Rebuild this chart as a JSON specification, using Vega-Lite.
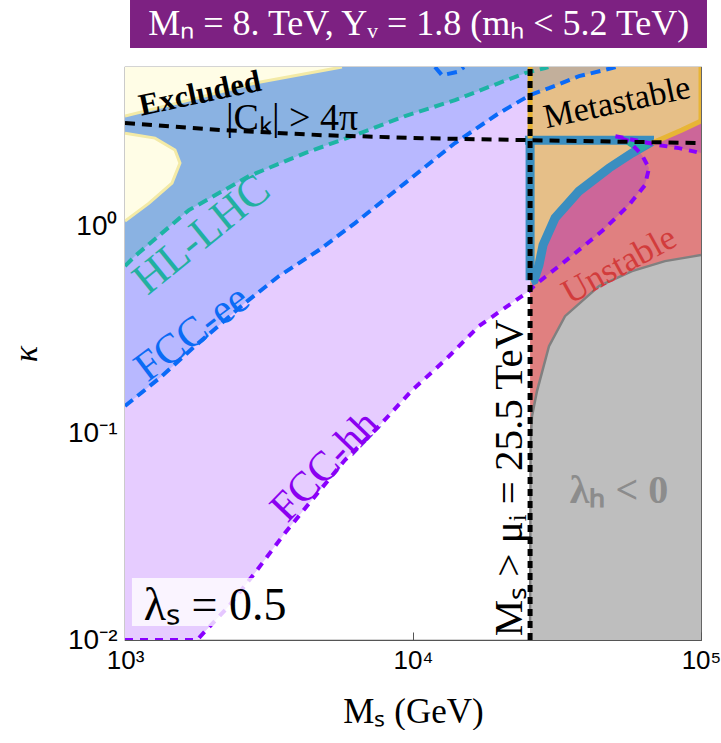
{
  "$schema": "https://vega.github.io/schema/vega-lite/v6.json",
  "background": "white",
  "padding": {"left": 8, "top": 0, "right": 0, "bottom": 0},
  "config": {"view": {"stroke": null}, "text": {"font": "Liberation Serif"}},
  "columns": 1,
  "spacing": 16,
  "align": "each",
  "concat": [
    {
      "width": 576,
      "height": 48,
      "data": {"values": [{"t": "Mₙ = 8. TeV, Yᵥ = 1.8  (mₕ < 5.2 TeV)"}]},
      "layer": [
        {
          "mark": {"type": "rect", "color": "#7D2182"},
          "encoding": {
            "x": {"datum": 0.0087, "type": "quantitative", "scale": {"domain": [0, 1]}, "axis": null},
            "x2": {"datum": 1.0104},
            "y": {"datum": 0, "type": "quantitative", "scale": {"domain": [0, 1]}, "axis": null},
            "y2": {"datum": 1}
          }
        },
        {
          "mark": {"type": "text", "color": "white", "font": "Liberation Serif", "fontSize": 36},
          "encoding": {
            "x": {"datum": 0.51, "type": "quantitative"},
            "y": {"datum": 0.5, "type": "quantitative"},
            "text": {"field": "t"}
          }
        }
      ]
    },
    {
      "width": 576,
      "height": 573,
      "view": {"stroke": "#555", "strokeWidth": 1.2},
      "encoding": {
        "x": {
          "field": "x", "type": "quantitative",
          "scale": {"type": "log", "domain": [1000, 100000], "nice": false},
          "axis": {
            "values": [1000, 10000, 100000],
            "labelExpr": "datum.value < 5000 ? '10³' : datum.value < 50000 ? '10⁴' : '10⁵'",
            "title": "Mₛ (GeV)", "grid": false, "domain": false,
            "tickSize": -8, "tickColor": "#555", "labelPadding": 15,
            "labelFont": "Liberation Sans", "labelFontSize": 26, "labelColor": "black", "labelFlush": false,
            "titleFont": "Liberation Serif", "titleFontSize": 35, "titleFontWeight": "normal", "titleColor": "black", "titlePadding": 21
          }
        },
        "y": {
          "field": "y", "type": "quantitative",
          "scale": {"type": "log", "domain": [0.01, 5.87], "nice": false},
          "axis": {
            "values": [0.01, 0.1, 1],
            "labelExpr": "datum.value < 0.05 ? '10⁻²' : datum.value < 0.5 ? '10⁻¹' : '10⁰'",
            "title": "κ", "grid": false, "domain": false,
            "tickSize": -8, "tickColor": "#555", "labelPadding": 16,
            "labelFont": "Liberation Sans", "labelFontSize": 28, "labelColor": "black", "labelFlush": false,
            "titleFont": "Liberation Serif", "titleFontSize": 34, "titleFontStyle": "italic", "titleFontWeight": "normal", "titleColor": "black", "titlePadding": 24
          }
        }
      },
      "layer": [
        {
          "data": {"values": [{"x":1000,"y":0.01},{"x":1778,"y":0.01},{"x":2296,"y":0.0146},{"x":2826,"y":0.0211},{"x":3594,"y":0.0329},{"x":4459,"y":0.0475},{"x":5805,"y":0.0741},{"x":7621,"y":0.108},{"x":9930,"y":0.161},{"x":12920,"y":0.225},{"x":16950,"y":0.329},{"x":25500,"y":0.49}]},
          "mark": {"type": "area", "color": "#E6CCFF", "clip": true},
          "encoding": {"y2": {"datum": 5.87}}
        },
        {
          "data": {"values": [{"x":1000,"y":0.135},{"x":1345,"y":0.1886},{"x":1750,"y":0.263},{"x":2610,"y":0.425},{"x":3425,"y":0.5735},{"x":4717,"y":0.766},{"x":6290,"y":1.034},{"x":9380,"y":1.613},{"x":13990,"y":2.52},{"x":19890,"y":3.515},{"x":25500,"y":4.295}]},
          "mark": {"type": "area", "color": "#B8B8FF", "clip": true},
          "encoding": {"y2": {"datum": 5.87}}
        },
        {
          "data": {"values": [{"x":1000,"y":0.641},{"x":1083,"y":0.716},{"x":1668,"y":1.195},{"x":2695,"y":1.744},{"x":4217,"y":2.253},{"x":6290,"y":2.752},{"x":9380,"y":3.4},{"x":13990,"y":4.06},{"x":19890,"y":4.91},{"x":25500,"y":5.58}]},
          "mark": {"type": "area", "color": "#8AB2E2", "clip": true},
          "encoding": {"y2": {"datum": 5.87}}
        },
        {
          "data": {"values": [{"x":25500,"y":0.01},{"x":100000,"y":0.01}]},
          "mark": {"type": "area", "color": "#E08080", "clip": true},
          "encoding": {"y2": {"datum": 5.87}}
        },
        {
          "data": {"values": [{"x":25500,"y":0.53},{"x":26310,"y":0.548},{"x":27380,"y":0.648},{"x":28280,"y":0.81},{"x":31130,"y":1.093},{"x":37710,"y":1.476},{"x":47930,"y":1.906},{"x":57610,"y":2.253},{"x":67600,"y":2.518},{"x":85900,"y":2.91},{"x":100000,"y":3.22}]},
          "mark": {"type": "area", "color": "#E6BF88", "clip": true},
          "encoding": {"y2": {"datum": 5.87}}
        },
        {
          "data": {"values": [{"x":25500,"y":4.295},{"x":29660,"y":4.64},{"x":37710,"y":5.3},{"x":49090,"y":5.8},{"x":50500,"y":5.87}]},
          "mark": {"type": "area", "color": "#C2AF9B", "clip": true},
          "encoding": {"y2": {"datum": 5.87}}
        },
        {
          "data": {"values": [{"y":0.519,"x":26000,"x2":26530},{"y":0.593,"x":26800,"x2":29910},{"y":0.7,"x":27250,"x2":34800},{"y":0.81,"x":28280,"x2":39560},{"y":0.946,"x":29710,"x2":45330},{"y":1.093,"x":31130,"x2":50480},{"y":1.263,"x":34150,"x2":56230},{"y":1.476,"x":37710,"x2":61410},{"y":1.578,"x":40140,"x2":63900},{"y":1.906,"x":47930,"x2":65990},{"y":2.203,"x":56230,"x2":62390},{"y":2.253,"x":57610,"x2":61410},{"y":2.32,"x":59500,"x2":59700}]},
          "mark": {"type": "area", "orient": "horizontal", "color": "#CC6699", "clip": true},
          "encoding": {"x2": {"field": "x2"}}
        },
        {
          "data": {"values": [{"x":67600,"y":2.45,"y2":2.518},{"x":71470,"y":2.462,"y2":2.6},{"x":83850,"y":2.381,"y2":2.87},{"x":100000,"y":2.253,"y2":3.22}]},
          "mark": {"type": "area", "color": "#CC6699", "clip": true},
          "encoding": {"y2": {"field": "y2"}}
        },
        {
          "data": {"values": [{"x":25500,"y":0.012},{"x":25600,"y":0.08},{"x":25690,"y":0.1},{"x":25900,"y":0.121},{"x":26950,"y":0.1595},{"x":29660,"y":0.263},{"x":33720,"y":0.367},{"x":44240,"y":0.513},{"x":57610,"y":0.606},{"x":74990,"y":0.677},{"x":100000,"y":0.724}]},
          "layer": [
            {"mark": {"type": "area", "color": "#BEBEBE", "clip": true}, "encoding": {"y2": {"datum": 0.01}}},
            {"mark": {"type": "line", "color": "#808080", "strokeWidth": 2.5, "clip": true}, "encoding": {}}
          ]
        },
        {
          "data": {"values": [{"x":1000,"y":3.4},{"x":1668,"y":4.06},{"x":2827,"y":4.91},{"x":5668,"y":5.87}]},
          "layer": [
            {"mark": {"type": "area", "color": "#FFFDE6", "clip": true}, "encoding": {"y2": {"datum": 5.87}}},
            {"mark": {"type": "line", "color": "#F3EAA6", "strokeWidth": 3, "clip": true}, "encoding": {}}
          ]
        },
        {
          "data": {"values": [{"i":0,"y":2.81,"x":1000,"x2":1000},{"i":1,"y":2.66,"x":1000,"x2":1271},{"i":2,"y":2.33,"x":1000,"x2":1491},{"i":3,"y":2.015,"x":1000,"x2":1552},{"i":4,"y":1.613,"x":1000,"x2":1456},{"i":5,"y":1.29,"x":1000,"x2":1212},{"i":6,"y":1.057,"x":1000,"x2":1000}]},
          "layer": [
            {"mark": {"type": "area", "orient": "horizontal", "color": "#FFFDE6", "clip": true}, "encoding": {"x2": {"field": "x2"}}},
            {"mark": {"type": "line", "color": "#F3EAA6", "strokeWidth": 3, "clip": true}, "encoding": {"x": {"field": "x2", "type": "quantitative"}, "order": {"field": "i", "type": "quantitative"}}}
          ]
        },
        {
          "data": {"values": [{"s":"v","i":0,"x":25500,"y":2.6},{"s":"v","i":1,"x":25500,"y":0.548},{"s":"h","i":0,"x":24480,"y":2.6},{"s":"h","i":1,"x":68680,"y":2.6},{"s":"c","i":0,"x":25700,"y":0.54},{"s":"c","i":1,"x":26310,"y":0.548},{"s":"c","i":2,"x":27380,"y":0.648},{"s":"c","i":3,"x":28280,"y":0.81},{"s":"c","i":4,"x":31130,"y":1.093},{"s":"c","i":5,"x":37710,"y":1.476},{"s":"c","i":6,"x":47930,"y":1.906},{"s":"c","i":7,"x":57610,"y":2.253},{"s":"c","i":8,"x":67600,"y":2.56}]},
          "mark": {"type": "line", "color": "#3A8EC0", "strokeWidth": 9, "strokeCap": "butt", "clip": true},
          "encoding": {"detail": {"field": "s"}, "order": {"field": "i", "type": "quantitative"}}
        },
        {
          "data": {"values": [{"s":"a","i":0,"x":67600,"y":2.518},{"s":"a","i":1,"x":85900,"y":2.91},{"s":"a","i":2,"x":100000,"y":3.22},{"s":"a","i":3,"x":100000,"y":5.87},{"s":"b","i":0,"x":25500,"y":2.65},{"s":"b","i":1,"x":25500,"y":5.87}]},
          "mark": {"type": "line", "color": "#E8B535", "strokeWidth": 5, "clip": true},
          "encoding": {"detail": {"field": "s"}, "order": {"field": "i", "type": "quantitative"}}
        },
        {
          "data": {"values": [{"y":2.72,"x":50280,"x2":51000},{"y":2.518,"x":54160,"x2":69240},{"y":2.253,"x":60920,"x2":60920}]},
          "mark": {"type": "area", "orient": "horizontal", "color": "#2AADA2", "clip": true},
          "encoding": {"x2": {"field": "x2"}}
        },
        {
          "data": {"values": [{"x":1000,"y":0.641},{"x":1083,"y":0.716},{"x":1668,"y":1.195},{"x":2695,"y":1.744},{"x":4217,"y":2.253},{"x":6290,"y":2.752},{"x":9380,"y":3.4},{"x":13990,"y":4.06},{"x":19890,"y":4.91},{"x":24480,"y":5.48},{"x":28730,"y":5.8},{"x":29500,"y":5.87}]},
          "mark": {"type": "line", "color": "#1DB4A4", "strokeWidth": 4, "strokeDash": [10, 6], "clip": true},
          "encoding": {}
        },
        {
          "data": {"values": [{"x":1000,"y":0.135},{"x":1345,"y":0.1886},{"x":1750,"y":0.263},{"x":2610,"y":0.425},{"x":3425,"y":0.5735},{"x":4717,"y":0.766},{"x":6290,"y":1.034},{"x":9380,"y":1.613},{"x":13990,"y":2.52},{"x":19890,"y":3.515},{"x":25500,"y":4.295},{"x":29660,"y":4.64},{"x":37710,"y":5.3},{"x":49090,"y":5.8},{"x":50500,"y":5.87}]},
          "mark": {"type": "line", "color": "#0A6AF8", "strokeWidth": 4, "strokeDash": [10, 6], "clip": true},
          "encoding": {}
        },
        {
          "data": {"values": [{"x":11920,"y":5.87},{"x":12610,"y":5.36},{"x":14210,"y":5.55},{"x":15040,"y":5.87}]},
          "mark": {"type": "line", "color": "#0A6AF8", "strokeWidth": 4, "strokeDash": [10, 6], "clip": true},
          "encoding": {}
        },
        {
          "data": {"values": [{"i":0,"x":1000,"y":0.01},{"i":1,"x":1778,"y":0.01},{"i":2,"x":2296,"y":0.0146},{"i":3,"x":2826,"y":0.0211},{"i":4,"x":3594,"y":0.0329},{"i":5,"x":4459,"y":0.0475},{"i":6,"x":5805,"y":0.0741},{"i":7,"x":7621,"y":0.108},{"i":8,"x":9930,"y":0.161},{"i":9,"x":12920,"y":0.225},{"i":10,"x":16950,"y":0.329},{"i":11,"x":25290,"y":0.485},{"i":12,"x":26530,"y":0.519},{"i":13,"x":34800,"y":0.7},{"i":14,"x":45330,"y":0.946},{"i":15,"x":56230,"y":1.263},{"i":16,"x":63900,"y":1.578},{"i":17,"x":65990,"y":1.906},{"i":18,"x":62390,"y":2.203},{"i":19,"x":56230,"y":2.575},{"i":20,"x":50280,"y":2.721},{"i":21,"x":71470,"y":2.462},{"i":22,"x":83850,"y":2.381},{"i":23,"x":100000,"y":2.253}]},
          "mark": {"type": "line", "color": "#8A00FF", "strokeWidth": 4, "strokeDash": [8, 7], "clip": true},
          "encoding": {"order": {"field": "i", "type": "quantitative"}}
        },
        {
          "data": {"values": [{"x":1000,"y":3.15},{"x":2172,"y":2.91},{"x":4831,"y":2.75},{"x":10746,"y":2.66},{"x":25500,"y":2.6},{"x":100000,"y":2.52}]},
          "mark": {"type": "line", "color": "black", "strokeWidth": 4, "strokeDash": [10, 7], "clip": true},
          "encoding": {}
        },
        {
          "data": {"values": [{"i":0,"x":25500,"y":0.01},{"i":1,"x":25500,"y":5.87}]},
          "mark": {"type": "line", "color": "black", "strokeWidth": 5, "strokeDash": [7, 5], "clip": true},
          "encoding": {"order": {"field": "i", "type": "quantitative"}}
        },
        {
          "data": {"values": [{"x":1057,"x2":4018,"y":0.01169,"y2":0.01993}]},
          "mark": {"type": "rect", "color": "white", "opacity": 0.78},
          "encoding": {"x2": {"field": "x2"}, "y2": {"field": "y2"}}
        },
        {
          "data": {"values": [{"x":2054,"y":0.0146,"t":"λₛ = 0.5"}]},
          "mark": {"type": "text", "fontSize": 46, "color": "black"},
          "encoding": {"text": {"field": "t"}}
        },
        {
          "data": {"values": [{"x":1821,"y":4.34,"t":"Excluded"}]},
          "mark": {"type": "text", "fontSize": 31, "fontWeight": "bold", "angle": -12, "color": "black"},
          "encoding": {"text": {"field": "t"}}
        },
        {
          "data": {"values": [{"x":3802,"y":3.28,"t":"|Cₖ| > 4π"}]},
          "mark": {"type": "text", "fontSize": 38, "color": "black"},
          "encoding": {"text": {"field": "t"}}
        },
        {
          "data": {"values": [{"x":1851,"y":0.905,"t":"HL-LHC"}]},
          "mark": {"type": "text", "fontSize": 44, "angle": -39, "color": "#22B0A0"},
          "encoding": {"text": {"field": "t"}}
        },
        {
          "data": {"values": [{"x":1708,"y":0.304,"t":"FCC-ee"}]},
          "mark": {"type": "text", "fontSize": 42, "angle": -37, "color": "#0B6BF5"},
          "encoding": {"text": {"field": "t"}}
        },
        {
          "data": {"values": [{"x":4948,"y":0.0693,"t":"FCC-hh"}]},
          "mark": {"type": "text", "fontSize": 42, "angle": -46, "color": "#8A00F0"},
          "encoding": {"text": {"field": "t"}}
        },
        {
          "data": {"values": [{"x":51090,"y":3.93,"t":"Metastable"}]},
          "mark": {"type": "text", "fontSize": 34, "angle": -12, "color": "black"},
          "encoding": {"text": {"field": "t"}}
        },
        {
          "data": {"values": [{"x":51920,"y":0.648,"t":"Unstable"}]},
          "mark": {"type": "text", "fontSize": 35, "angle": -29, "color": "#D23C3C"},
          "encoding": {"text": {"field": "t"}}
        },
        {
          "data": {"values": [{"x":51920,"y":0.0524,"t":"λₕ < 0"}]},
          "mark": {"type": "text", "fontSize": 40, "fontWeight": "bold", "color": "#8C8C8C"},
          "encoding": {"text": {"field": "t"}}
        },
        {
          "data": {"values": [{"x":21720,"y":0.0606,"t":"Mₛ > μᵢ = 25.5 TeV"}]},
          "mark": {"type": "text", "fontSize": 41, "angle": -90, "color": "black"},
          "encoding": {"text": {"field": "t"}}
        }
      ]
    }
  ]
}
